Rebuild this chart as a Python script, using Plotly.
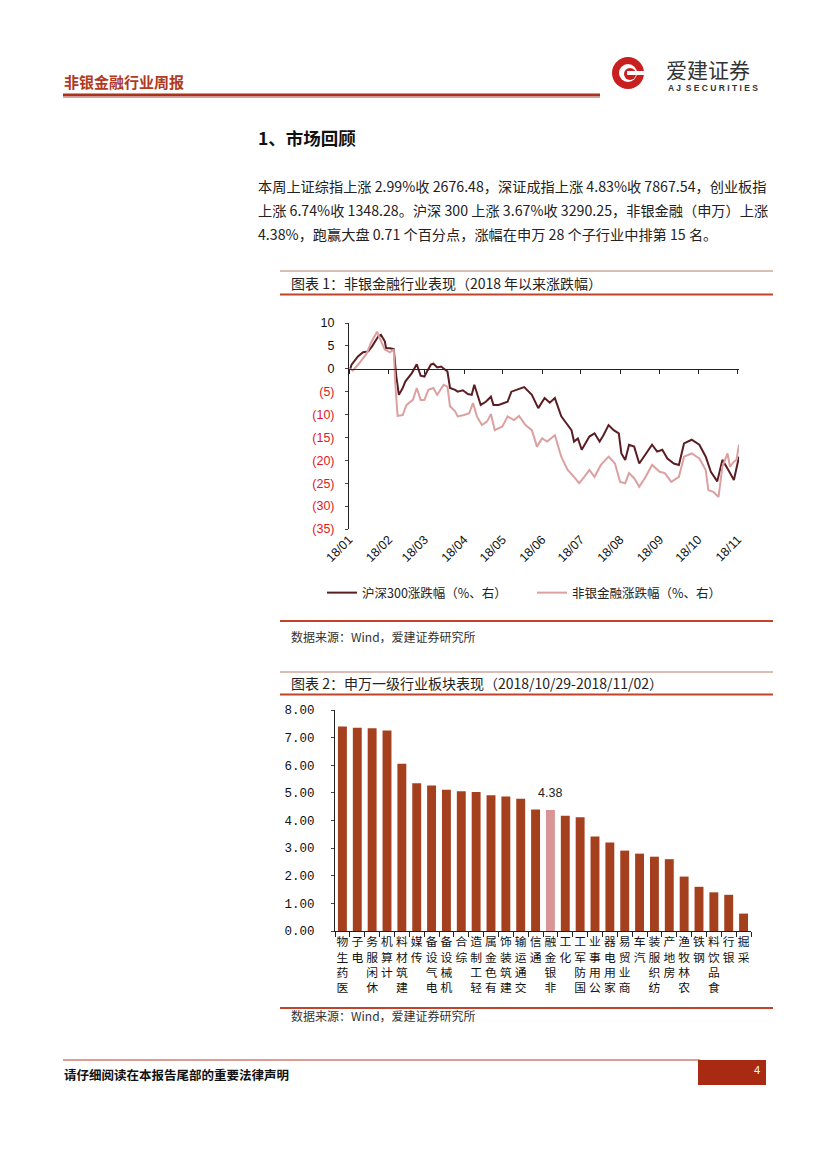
import plotly.graph_objects as go

# ---------------- data ----------------
hs300_dates = [
    "2018-01-02", "2018-01-03", "2018-01-08", "2018-01-12", "2018-01-16", "2018-01-19", "2018-01-24", "2018-01-26", "2018-01-29", "2018-01-30",
    "2018-02-02", "2018-02-05", "2018-02-07", "2018-02-09", "2018-02-12", "2018-02-14", "2018-02-19", "2018-02-23", "2018-02-26",
    "2018-03-01", "2018-03-03", "2018-03-06", "2018-03-08", "2018-03-11", "2018-03-14", "2018-03-17", "2018-03-19", "2018-03-21", "2018-03-25", "2018-03-27", "2018-03-31",
    "2018-04-04", "2018-04-07", "2018-04-09", "2018-04-14", "2018-04-18", "2018-04-22", "2018-04-24", "2018-04-28",
    "2018-05-05", "2018-05-08", "2018-05-13", "2018-05-18", "2018-05-24", "2018-05-29",
    "2018-06-03", "2018-06-07", "2018-06-11", "2018-06-16", "2018-06-20", "2018-06-24", "2018-06-26", "2018-06-29",
    "2018-07-02", "2018-07-05", "2018-07-08", "2018-07-12", "2018-07-16", "2018-07-19", "2018-07-23", "2018-07-27", "2018-07-31",
    "2018-08-02", "2018-08-05", "2018-08-08", "2018-08-12", "2018-08-16", "2018-08-21", "2018-08-26", "2018-08-30",
    "2018-09-03", "2018-09-07", "2018-09-12", "2018-09-16", "2018-09-20", "2018-09-26",
    "2018-10-02", "2018-10-07", "2018-10-11", "2018-10-16", "2018-10-20", "2018-10-24", "2018-10-29", "2018-10-31", "2018-11-02",
]
hs300_pct = [
    0.0, 0.9, 2.7, 3.6, 3.8, 4.9, 7.1, 7.4, 6.0, 4.5,
    4.5, 4.3, -1.7, -5.7, -4.2, -2.8, -1.0, 1.0, -1.5,
    -1.7, -0.6, 0.9, 1.1, 0.3, 0.5, -0.1, -0.6, -4.2, -4.6, -5.0, -4.7,
    -5.5, -5.7, -3.5, -7.9, -7.2, -6.1, -7.9, -7.9,
    -7.2, -5.0, -4.5, -4.0, -5.7, -8.6,
    -6.4, -7.4, -6.4, -10.4, -11.9, -13.4, -15.9, -15.2,
    -17.7, -16.3, -14.8, -14.1, -15.9, -14.5, -12.3, -13.4, -14.1,
    -18.5, -19.9, -16.6, -17.0, -20.7, -18.5, -16.6, -18.1,
    -17.7, -19.6, -20.7, -21.0, -16.3, -15.5,
    -16.6, -19.2, -22.5, -24.6, -19.9, -21.8, -24.3, -21.8, -19.2,
]

fin_dates = [
    "2018-01-02", "2018-01-04", "2018-01-09", "2018-01-15", "2018-01-18", "2018-01-22", "2018-01-23", "2018-01-25", "2018-01-29",
    "2018-02-02", "2018-02-05", "2018-02-06", "2018-02-08", "2018-02-12", "2018-02-15", "2018-02-20", "2018-02-23", "2018-02-26",
    "2018-03-01", "2018-03-04", "2018-03-08", "2018-03-11", "2018-03-16", "2018-03-19", "2018-03-21", "2018-03-25", "2018-03-27",
    "2018-04-01", "2018-04-05", "2018-04-08", "2018-04-11", "2018-04-15", "2018-04-19", "2018-04-22", "2018-04-25",
    "2018-05-01", "2018-05-05", "2018-05-10", "2018-05-14", "2018-05-19", "2018-05-24", "2018-05-28",
    "2018-06-01", "2018-06-05", "2018-06-11", "2018-06-16", "2018-06-21", "2018-06-26", "2018-06-30",
    "2018-07-04", "2018-07-08", "2018-07-12", "2018-07-17", "2018-07-23", "2018-07-28",
    "2018-08-01", "2018-08-05", "2018-08-08", "2018-08-12", "2018-08-16", "2018-08-21", "2018-08-26",
    "2018-09-01", "2018-09-05", "2018-09-10", "2018-09-16", "2018-09-20", "2018-09-26",
    "2018-10-02", "2018-10-07", "2018-10-09", "2018-10-13", "2018-10-17", "2018-10-20", "2018-10-24", "2018-10-26", "2018-10-29", "2018-10-31", "2018-11-02",
]
fin_pct = [
    0.0, -0.4, 1.2, 3.4, 5.6, 7.8, 8.1, 6.7, 4.2,
    3.6, 4.2, -2.4, -10.3, -10.1, -7.9, -6.8, -4.2, -6.8,
    -6.8, -4.6, -4.2, -5.7, -3.5, -3.9, -8.2, -9.3, -10.4,
    -10.1, -9.7, -7.5, -10.4, -12.3, -11.5, -9.9, -13.4,
    -12.6, -10.4, -11.2, -10.3, -12.3, -13.4, -17.0,
    -15.2, -15.9, -14.5, -19.2, -22.1, -23.6, -25.0,
    -23.6, -22.1, -23.6, -21.0, -19.2, -20.7,
    -24.7, -25.0, -22.8, -23.9, -25.8, -23.6, -21.0,
    -22.5, -22.8, -24.7, -23.6, -19.2, -18.5,
    -19.6, -22.1, -26.5, -26.9, -28.0, -21.4, -18.5, -21.4, -20.3, -19.9, -16.6,
]

month_ticks = ["2018-01-01", "2018-02-01", "2018-03-01", "2018-04-01", "2018-05-01", "2018-06-01",
               "2018-07-01", "2018-08-01", "2018-09-01", "2018-10-01", "2018-11-01"]
month_labels = ["18/01", "18/02", "18/03", "18/04", "18/05", "18/06", "18/07", "18/08", "18/09", "18/10", "18/11"]
line_yticks = [10, 5, 0, -5, -10, -15, -20, -25, -30, -35]
line_ytick_labels = ["10", "5", "0", "(5)", "(10)", "(15)", "(20)", "(25)", "(30)", "(35)"]

industries = ["医药生物", "电子", "休闲服务", "计算机", "建筑材料", "传媒", "电气设备", "机械设备", "综合", "轻工制造",
              "有色金属", "建筑装饰", "交通运输", "通信", "非银金融", "化工", "国防军工", "公用事业", "家用电器", "商业贸易",
              "汽车", "纺织服装", "房地产", "农林牧渔", "钢铁", "食品饮料", "银行", "采掘"]
weekly_pct = [7.40, 7.36, 7.34, 7.26, 6.05, 5.35, 5.27, 5.11, 5.06, 5.03,
              4.91, 4.87, 4.79, 4.40, 4.38, 4.17, 4.12, 3.42, 3.20, 2.91,
              2.80, 2.69, 2.60, 1.97, 1.60, 1.40, 1.31, 0.63]
highlight = "非银金融"

# ---------------- page helpers ----------------
W, H = 827, 1169
def px(x):
    return x / W
def py(y):
    return 1 - y / H

CJK = "Noto Sans CJK SC"
SANS = "Liberation Sans"
RUST = "#A5401F"
PINK = "#D99595"
DARK = "#5A1E22"
LIGHT = "#DDA0A0"
RED_LINE = "#C0432A"

fig = go.Figure()

# line chart
fig.add_trace(go.Scatter(x=hs300_dates, y=hs300_pct, mode="lines", name="沪深300涨跌幅（%、右）",
                         line=dict(color=DARK, width=2), xaxis="x", yaxis="y"))
fig.add_trace(go.Scatter(x=fin_dates, y=fin_pct, mode="lines", name="非银金融涨跌幅（%、右）",
                         line=dict(color=LIGHT, width=2), xaxis="x2", yaxis="y"))

# bar chart
bar_colors = [PINK if c == highlight else RUST for c in industries]
fig.add_trace(go.Bar(x=industries, y=weekly_pct, marker=dict(color=bar_colors, line=dict(width=0)),
                     width=0.6, xaxis="x3", yaxis="y2", showlegend=False))

hi_val = weekly_pct[industries.index(highlight)]

red_ticks = ['<span style="color:#E0191E">%s</span>' % t if t.startswith("(") else t for t in line_ytick_labels]
vertical_labels = ["<br>".join(reversed(name)) for name in industries]

date_range = ["2018-01-01", "2018-11-02"]

fig.update_layout(
    width=W, height=H,
    margin=dict(l=0, r=0, t=0, b=0, pad=0, autoexpand=False),
    paper_bgcolor="white", plot_bgcolor="white",
    font=dict(family=CJK, color="#222222"),
    xaxis=dict(domain=[px(349), px(739)], anchor="y", range=date_range, type="date",
               tickvals=month_ticks, ticktext=month_labels, tickangle=-45, automargin=False,
               showline=False, ticks="", showgrid=False, zeroline=False,
               tickfont=dict(family=SANS, size=12.5, color="#111111")),
    xaxis2=dict(overlaying="x", anchor="free", position=py(369), range=date_range, type="date",
                tickvals=month_ticks, showticklabels=False, showline=True, linecolor="#222222", linewidth=1,
                ticks="outside", ticklen=4, tickcolor="#222222", showgrid=False, zeroline=False, automargin=False),
    yaxis=dict(domain=[py(529), py(323)], anchor="x", range=[-35, 10], automargin=False,
               tickvals=line_yticks, ticktext=red_ticks, showline=True, linecolor="#222222", linewidth=1,
               ticks="outside", ticklen=3, ticklabelstandoff=8, showgrid=False, zeroline=False,
               tickfont=dict(family=SANS, size=12.5, color="#111111")),
    xaxis3=dict(domain=[px(335), px(751)], anchor="y2", type="category", automargin=False,
                tickvals=industries, ticktext=vertical_labels,
                showline=True, linecolor="#222222", linewidth=1, ticks="outside", ticklen=5,
                tickson="boundaries", tickcolor="#222222", showgrid=False, zeroline=False,
                tickfont=dict(family=CJK, size=11.8, color="#111111"), tickangle=0),
    yaxis2=dict(domain=[py(931), py(710)], anchor="x3", range=[0, 8], dtick=1, tickformat=".2f",
                showline=True, linecolor="#222222", linewidth=1, ticks="outside", ticklen=3,
                ticklabelstandoff=14, showgrid=False, zeroline=False, automargin=False,
                tickfont=dict(family="Liberation Mono", size=12.5, color="#111111")),
    legend=dict(orientation="h", x=px(322), y=py(578), xanchor="left", yanchor="top",
                font=dict(family=CJK, size=12.5, color="#222222"), itemwidth=30,
                entrywidth=165, entrywidthmode="pixels", bgcolor="rgba(0,0,0,0)"),
    showlegend=True,
    bargap=0.4,
)

# value label on highlighted bar
fig.add_annotation(x=highlight, y=hi_val, xref="x3", yref="y2", text=f"{hi_val:.2f}",
                   showarrow=False, yanchor="bottom", yshift=8,
                   font=dict(family=SANS, size=12.5, color="#222222"))

# ---------------- page decorations ----------------
shapes = []
def hline(x0, x1, y, color, width):
    shapes.append(dict(type="line", xref="paper", yref="paper", x0=px(x0), x1=px(x1), y0=py(y), y1=py(y),
                       line=dict(color=color, width=width)))

# header
hline(63, 600, 95, "#A8321C", 3)
hline(63, 600, 97.5, "#E8A080", 1)
# figure frames
hline(280, 773, 271, "#B57A6A", 1)
hline(280, 773, 294.5, RED_LINE, 2.2)
hline(280, 773, 621, RED_LINE, 2.2)
hline(280, 773, 672, "#B57A6A", 1)
hline(280, 773, 694.5, RED_LINE, 2.2)
hline(280, 773, 1008, RED_LINE, 2.2)
# footer
hline(63, 700, 1060, "#C0392B", 1)
shapes.append(dict(type="rect", xref="paper", yref="paper", x0=px(698), x1=px(766), y0=py(1085), y1=py(1060),
                   fillcolor="#A82A12", line=dict(width=0)))
# logo mark
shapes.append(dict(type="circle", xref="paper", yref="paper", x0=px(612), x1=px(644), y0=py(89), y1=py(57),
                   fillcolor="#C8201E", line=dict(width=0)))
shapes.append(dict(type="circle", xref="paper", yref="paper", x0=px(619), x1=px(637), y0=py(82), y1=py(64),
                   fillcolor="white", line=dict(width=0)))
shapes.append(dict(type="circle", xref="paper", yref="paper", x0=px(624), x1=px(636), y0=py(80), y1=py(68),
                   fillcolor="#C8201E", line=dict(width=0)))
shapes.append(dict(type="rect", xref="paper", yref="paper", x0=px(627), x1=px(644), y0=py(75), y1=py(71),
                   fillcolor="white", line=dict(width=0)))
fig.update_layout(shapes=shapes)

def text(x, y, s, size, color="#222222", bold=False, family=CJK, xanchor="left"):
    fig.add_annotation(x=px(x), y=py(y), xref="paper", yref="paper", text=f"<b>{s}</b>" if bold else s,
                       showarrow=False, xanchor=xanchor, yanchor="middle",
                       font=dict(family=family, size=size, color=color))

text(62, 82, "非银金融行业周报", 15, color="#B0391E", bold=True)
text(664, 69, "爱建证券", 21, color="#333333")
text(666, 88, "A J  S E C U R I T I E S", 8.5, color="#333333", bold=True, family=SANS)
text(256, 137, "1、市场回顾", 17.5, color="#111111", bold=True)
text(256, 186, "本周上证综指上涨 2.99%收 2676.48，深证成指上涨 4.83%收 7867.54，创业板指", 14.2, color="#222222")
text(256, 210, "上涨 6.74%收 1348.28。沪深 300 上涨 3.67%收 3290.25，非银金融（申万）上涨", 14.2, color="#222222")
text(256, 234, "4.38%，跑赢大盘 0.71 个百分点，涨幅在申万 28 个子行业中排第 15 名。", 14.2, color="#222222")
text(289, 283, "图表 1：非银金融行业表现（2018 年以来涨跌幅）", 14, color="#222222")
text(289, 636, "数据来源：Wind，爱建证券研究所", 12, color="#333333")
text(289, 683, "图表 2：申万一级行业板块表现（2018/10/29-2018/11/02）", 14, color="#222222")
text(289, 1015, "数据来源：Wind，爱建证券研究所", 12, color="#333333")
text(62, 1074, "请仔细阅读在本报告尾部的重要法律声明", 12.5, color="#111111", bold=True)
text(752, 1070, "4", 11, color="white", family=SANS)

fig.write_html("out.html", config={"displayModeBar": False},
               post_script="document.body.style.margin='0';")
